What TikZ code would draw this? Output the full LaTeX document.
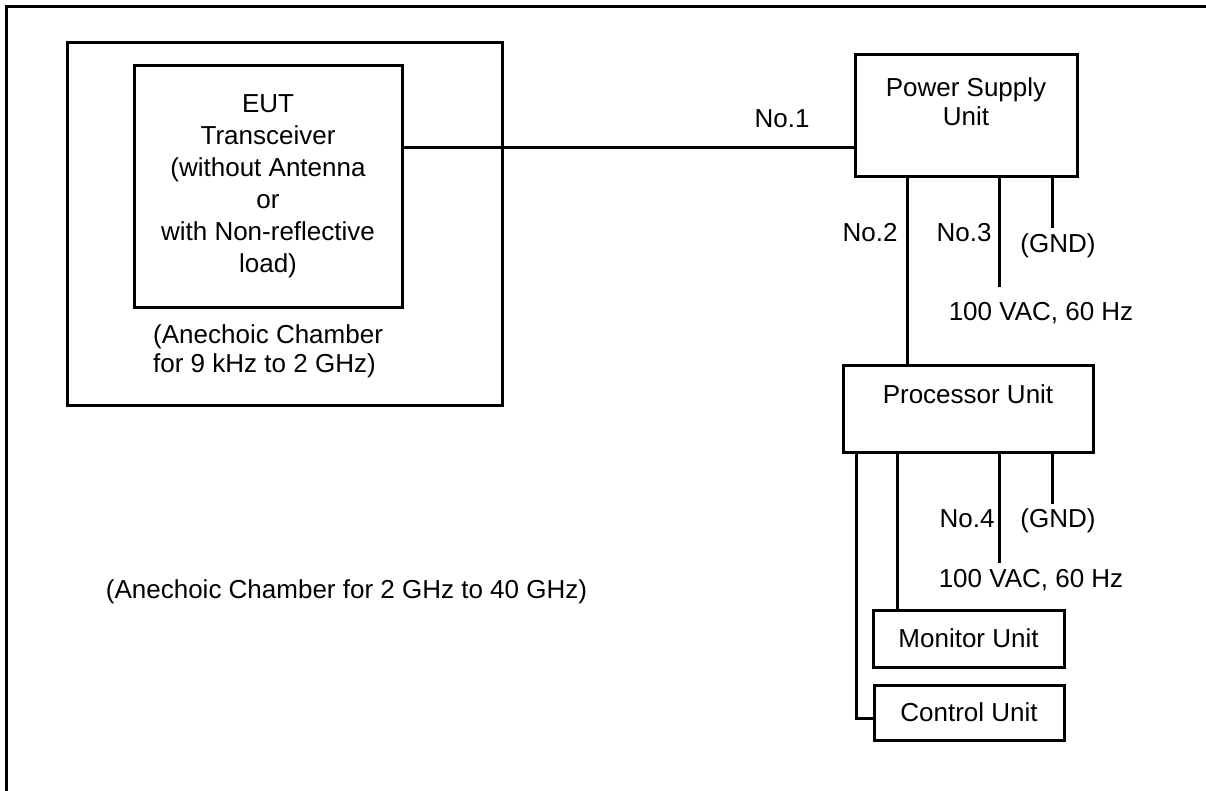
\documentclass[tikz,border=0pt]{standalone}
\usepackage{fontspec}
\setmainfont{Liberation Sans}
\usetikzlibrary{calc}

\begin{document}
\begin{tikzpicture}[x=1pt, y=-1pt,
  font=\fontsize{26}{29}\selectfont,
  ub/.style={draw, line width=3pt, align=center, inner sep=0pt},
  w/.style={line width=3pt},
  lbl/.style={inner sep=0pt, anchor=base}]

\useasboundingbox (0,0) rectangle (1206,791);

% outer frame, cut at right and bottom
\draw[w] (6,791) -- (6,7) -- (1206,7);

% chamber and EUT
\node[ub, minimum width=435pt, minimum height=362pt] (ch) at (284.5,224) {};
\node[ub, minimum width=268pt, minimum height=241pt,
      font=\fontsize{26}{32}\selectfont] (eut) at (268,186.5)
      {EUT\\Transceiver\\(without Antenna\\or\\with Non-reflective\\load)};
\node[inner sep=0pt, align=left, anchor=north west] (chtxt) at (153,324)
      {(Anechoic Chamber\\for 9 kHz to 2 GHz)};

% units
\node[ub, minimum width=222pt, minimum height=122pt] (psu) at (966,116)
      {Power Supply\\Unit\\ \mbox{}};
\node[ub, minimum width=250pt, minimum height=87pt] (proc) at (968,408.5)
      {Processor Unit\\ \mbox{}};
\node[ub, minimum width=191pt, minimum height=57pt] (mon) at (968.5,638.5)
      {Monitor Unit};
\node[ub, minimum width=190pt, minimum height=55pt] (ctrl) at (969,712.5)
      {Control Unit};

% cables
\draw[w] ([yshift=38.5pt]eut.east) -- ([yshift=38.5pt]eut.east -| psu.west);
\draw[w] ([xshift=-59pt]psu.south) -- ([xshift=-59pt]psu.south |- proc.north);
\draw[w] ([xshift=-71pt]proc.south) -- ([xshift=-71pt]proc.south |- mon.north);
\draw[w] ([xshift=-112pt]proc.south) |- ([yshift=-5.5pt]ctrl.west);

\coordinate (ac1) at (999,287);
\coordinate (gnd1) at (1052,228);
\coordinate (ac2) at (999,563);
\coordinate (gnd2) at (1052,504);
\foreach \s/\i in {psu/1, proc/2} {
  \draw[w] (ac\i |- \s.south) -- (ac\i);
  \draw[w] (gnd\i |- \s.south) -- (gnd\i);
}

% labels
\node[lbl] (n1) at (782,128) {No.1};
\node[lbl] (n2) at (870,242) {No.2};
\node[lbl] (n3) at (964,242) {No.3};
\node[lbl] (g1) at (1058,253) {(GND)};
\node[lbl] (v1) at (1041,320) {100 VAC, 60 Hz};
\node[lbl] (n4) at (967,527) {No.4};
\node[lbl] (g2) at (1058,527) {(GND)};
\node[lbl] (v2) at (1031,587) {100 VAC, 60 Hz};
\node[lbl] (big) at (346.5,598) {(Anechoic Chamber for 2 GHz to 40 GHz)};
\end{tikzpicture}
\end{document}
